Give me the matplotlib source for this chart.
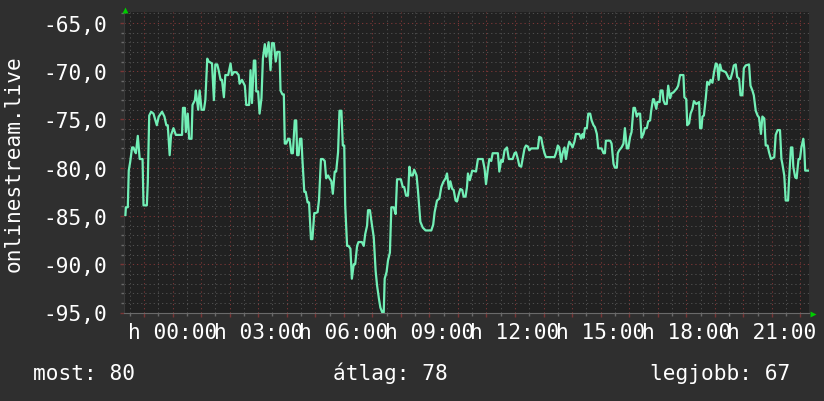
import matplotlib
matplotlib.use('Agg')
import matplotlib.pyplot as plt
from matplotlib.ticker import MultipleLocator, FuncFormatter

# ---- data (minutes relative to 00:00, value) ----
times_min = [
    -99, -98, -94, -92, -89, -85, -82, -80, -77, -73, -69, -63, -61, -54, -52, -49, -45, -40, -33, -29,
    -22, -17, -13, -10, -6, -3, 2, 7, 20, 22, 26, 28, 32, 35, 40, 42, 47, 49, 54, 57,
    61, 66, 69, 73, 76, 83, 87, 90, 94, 97, 101, 104, 108, 111, 117, 122, 125, 129, 134, 139,
    141, 146, 152, 155, 161, 164, 167, 171, 174, 176, 180, 183, 187, 190, 194, 197, 202, 206, 209, 213,
    217, 220, 225, 227, 231, 234, 236, 239, 243, 246, 250, 253, 257, 260, 262, 265, 268, 271, 273, 277,
    280, 284, 287, 291, 294, 298, 301, 305, 308, 312, 316, 320, 323, 327, 330, 334, 337, 341, 344, 348,
    351, 355, 358, 361, 363, 367, 370, 374, 377, 381, 384, 388, 391, 398, 402, 405, 409, 411, 415, 418,
    423, 427, 430, 434, 437, 441, 444, 446, 450, 453, 457, 460, 465, 469, 472, 480, 484, 487, 491, 495,
    498, 501, 505, 508, 513, 516, 521, 526, 532, 544, 548, 551, 556, 561, 565, 569, 574, 577, 581, 584,
    588, 591, 595, 598, 602, 605, 609, 612, 616, 619, 621, 625, 630, 638, 642, 652, 656, 659, 663, 666,
    670, 673, 684, 687, 691, 694, 698, 703, 707, 715, 719, 722, 726, 729, 733, 736, 740, 743, 747, 750,
    754, 768, 771, 775, 778, 782, 785, 803, 806, 810, 813, 817, 820, 824, 827, 831, 834, 838, 841, 845,
    848, 855, 859, 862, 864, 867, 871, 874, 878, 881, 885, 888, 892, 895, 902, 906, 909, 911, 920, 923,
    927, 930, 934, 936, 939, 944, 948, 951, 955, 958, 962, 965, 969, 972, 976, 979, 983, 986, 990, 993,
    997, 1000, 1004, 1006, 1010, 1012, 1017, 1019, 1024, 1026, 1030, 1032, 1035, 1039, 1042, 1046, 1049, 1053, 1060, 1063,
    1067, 1074, 1076, 1080, 1082, 1086, 1089, 1093, 1096, 1101, 1107, 1109, 1112, 1114, 1117, 1121, 1124, 1128, 1131, 1135,
    1138, 1142, 1145, 1148, 1151, 1154, 1163, 1166, 1170, 1173, 1177, 1180, 1184, 1187, 1191, 1194, 1198, 1201, 1205, 1212,
    1215, 1219, 1222, 1226, 1230, 1233, 1237, 1240, 1244, 1247, 1251, 1254, 1258, 1265, 1268, 1272, 1277, 1280, 1282, 1286,
    1289, 1294, 1296, 1300, 1303, 1305, 1309, 1312, 1316, 1319, 1322, 1326, 1328, 1330, 1336,
]
values = [
    -84.9, -84.1, -84.1, -80.3, -79.4, -77.9, -77.9, -78.2, -78.5, -76.7, -79.1, -79.1, -83.9, -83.9, -81.5, -74.6, -74.2, -74.4, -75.6, -74.7,
    -74.2, -74.7, -75.6, -75.6, -78.7, -76.6, -75.9, -76.6, -76.6, -73.8, -73.8, -76.3, -74.4, -77.0, -77.0, -73.5, -73.0, -72.0, -74.0, -72.0,
    -74.0, -74.0, -73.0, -68.7, -69.0, -69.2, -73.0, -69.3, -69.3, -69.9, -70.9, -70.9, -72.7, -70.4, -70.4, -69.2, -70.4, -70.1, -70.1, -70.4,
    -71.3, -70.9, -71.5, -73.5, -73.5, -69.9, -73.3, -68.9, -68.9, -72.1, -72.1, -74.4, -72.8, -68.7, -67.2, -68.5, -67.0, -69.9, -67.1, -67.1,
    -69.0, -68.0, -68.0, -72.0, -72.4, -72.4, -77.5, -77.5, -77.0, -77.0, -78.5, -78.5, -75.1, -75.1, -78.7, -78.7, -77.0, -77.0, -79.1, -82.5,
    -82.5, -83.6, -83.6, -87.4, -87.4, -84.7, -84.7, -84.6, -83.3, -79.1, -79.1, -79.3, -81.1, -80.8, -81.1, -81.4, -82.7, -80.4, -80.4, -78.4,
    -74.1, -74.1, -77.7, -77.7, -83.9, -88.1, -88.1, -88.4, -91.5, -90.0, -90.0, -88.1, -87.7, -87.7, -88.1, -86.9, -86.0, -84.4, -84.4, -85.5,
    -87.2, -90.7, -92.2, -93.6, -94.5, -95.0, -95.0, -91.5, -90.8, -89.6, -88.8, -84.1, -84.1, -84.8, -81.2, -81.2, -82.0, -82.0, -82.9, -82.9,
    -79.9, -80.8, -80.8, -80.2, -80.8, -82.4, -85.6, -86.2, -86.5, -86.5, -85.9, -84.6, -83.4, -83.2, -82.0, -81.5, -81.1, -80.6, -82.2, -81.4,
    -82.2, -82.3, -83.4, -83.5, -82.7, -82.2, -82.3, -83.0, -83.0, -82.0, -80.6, -81.3, -80.3, -80.4, -79.1, -79.1, -80.1, -81.7, -80.1, -79.1,
    -79.3, -78.5, -78.5, -80.4, -79.2, -79.4, -78.2, -77.9, -79.1, -79.1, -78.5, -78.4, -79.1, -79.8, -79.9, -79.1, -78.0, -77.7, -77.8, -78.2,
    -78.0, -78.0, -76.8, -76.9, -77.7, -78.5, -78.9, -78.9, -78.5, -77.7, -77.9, -79.4, -78.5, -77.9, -79.1, -77.9, -77.3, -77.6, -77.9, -77.3,
    -76.5, -76.5, -77.0, -76.5, -76.9, -75.9, -75.9, -74.4, -74.4, -75.1, -75.6, -75.8, -76.5, -78.0, -78.0, -78.5, -78.5, -77.2, -77.2, -77.5,
    -79.6, -80.0, -80.0, -78.5, -78.2, -77.9, -77.5, -75.9, -78.0, -78.0, -76.8, -76.3, -73.8, -73.8, -74.7, -74.4, -74.4, -76.9, -76.5, -75.9,
    -75.9, -75.2, -75.1, -74.2, -72.9, -72.9, -73.9, -73.2, -73.2, -72.0, -72.0, -73.0, -73.4, -73.4, -71.5, -72.8, -72.3, -72.2, -71.8, -71.5,
    -70.4, -70.4, -72.7, -72.9, -75.6, -75.4, -74.4, -73.9, -73.1, -73.4, -73.2, -75.9, -75.9, -74.7, -74.6, -72.8, -71.1, -71.4, -70.9, -71.2,
    -70.2, -69.2, -69.3, -70.9, -69.3, -69.9, -70.1, -70.4, -70.8, -70.8, -70.1, -69.4, -69.3, -70.6, -70.8, -72.5, -72.5, -69.7, -69.4, -69.3,
    -71.5, -72.0, -72.5, -74.1, -74.6, -74.8, -76.5, -74.7, -74.9, -77.7, -77.7, -78.4, -79.1, -78.9, -76.6, -76.1, -76.1, -79.1, -79.6, -80.8,
    -83.4, -83.4, -81.3, -77.9, -77.9, -79.9, -81.0, -81.1, -79.1, -79.1, -77.9, -77.0, -78.0, -80.3, -80.3,
]

x_tick_minutes = [0, 180, 360, 540, 720, 900, 1080, 1260]
x_tick_labels = ["h 00:00", "h 03:00", "h 06:00", "h 09:00", "h 12:00", "h 15:00", "h 18:00", "h 21:00"]
y_label = "onlinestream.live"
summary = [("most: 80", 33), ("átlag: 78", 333), ("legjobb: 67", 650)]

# ---- style ----
BG = '#2f2f2f'
PLOT_BG = '#212121'
LINE = '#72efb6'
MAJOR = '#7a3636'
MINOR = '#4e4e4e'
FONT = ['DejaVu Sans Mono']
FS = 15.2

W, H = 824, 402
fig = plt.figure(figsize=(W / 100, H / 100), dpi=100, facecolor=BG)
L, R, T, B = 124, 809, 13.3, 313.5
ax = fig.add_axes([L / W, 1 - B / H, (R - L) / W, (B - T) / H])
ax.set_facecolor(PLOT_BG)

ax.plot(times_min, values, color=LINE, lw=1.6, zorder=3)

ax.set_xlim(-102, 1338)
ax.set_ylim(-95, -63.9)

ax.xaxis.set_major_locator(MultipleLocator(60))
ax.xaxis.set_minor_locator(MultipleLocator(30))
lab = dict(zip(x_tick_minutes, x_tick_labels))
ax.xaxis.set_major_formatter(FuncFormatter(lambda v, p: lab.get(int(round(v)), "")))
ax.yaxis.set_major_locator(MultipleLocator(5))
ax.yaxis.set_minor_locator(MultipleLocator(1))
ax.yaxis.set_major_formatter(FuncFormatter(lambda v, p: f"{v:.1f}".replace('.', ',')))

dash = (0, (1.2, 2.8))
ax.grid(which='minor', color=MINOR, lw=0.75, ls=dash, zorder=1)
ax.grid(which='major', color=MAJOR, lw=0.75, ls=dash, zorder=2)
ax.set_axisbelow(True)

ax.tick_params(which='major', colors=MAJOR, length=3, width=1, direction='out', labelcolor='white',
               labelsize=FS)
ax.tick_params(which='minor', colors='#6a6a6a', length=2, width=1, direction='out')
ax.tick_params(axis='x', which='major', pad=4.2)
ax.tick_params(axis='y', which='major', pad=9)
for t in ax.get_xticklabels() + ax.get_yticklabels():
    t.set_fontfamily(FONT)

for s in ['top', 'right']:
    ax.spines[s].set_visible(False)
ax.spines['bottom'].set_color('#6a6a6a')
ax.spines['left'].set_color('#3a3a3a')

# axis arrows
ax.plot([(813 - L) / (R - L)], [(B - 314.5) / (B - T)], marker='>', ms=5, color='#00cc00',
        transform=ax.transAxes, clip_on=False, zorder=5, mec='none')
ax.plot([(125 - L) / (R - L)], [(B - 10.5) / (B - T)], marker='^', ms=5, color='#00cc00',
        transform=ax.transAxes, clip_on=False, zorder=5, mec='none')

fig.text(14 / W, 1 - 163.4 / H, y_label, rotation=90, ha='center', va='center',
         color='white', fontsize=FS, family=FONT)
for txt, x0 in summary:
    fig.text(x0 / W, 1 - 380 / H, txt, ha='left', va='baseline', color='white', fontsize=FS, family=FONT)

fig.savefig('out.png', dpi=100, facecolor=BG)
